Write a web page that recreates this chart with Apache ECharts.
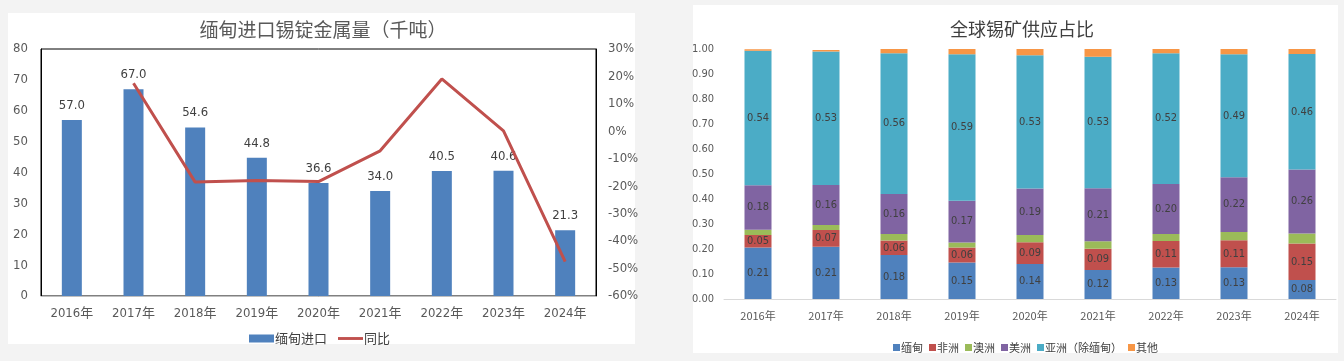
<!DOCTYPE html>
<html>
<head>
<meta charset="utf-8">
<script src="https://cdn.jsdelivr.net/npm/echarts@6/dist/echarts.min.js"></script>
<style>
  html, body { margin: 0; padding: 0; width: 1344px; height: 361px; background: #f3f3f3; overflow: hidden; }
  #p1 { position: absolute; left: 8px; top: 13px; width: 627px; height: 331px; background: #fff; }
  #p2 { position: absolute; left: 693px; top: 5px; width: 645px; height: 348px; background: #fff; }
  #chart { position: absolute; left: 0; top: 0; width: 1344px; height: 361px; }
</style>
</head>
<body>
<div id="p1"></div>
<div id="p2"></div>
<div id="chart"></div>
<script>
// ---- Left chart data ----
const years = ['2016年','2017年','2018年','2019年','2020年','2021年','2022年','2023年','2024年'];
const myanmarImport = [57.0, 67.0, 54.6, 44.8, 36.6, 34.0, 40.5, 40.6, 21.3];
const yoy = [null, 17.5, -18.5, -17.9, -18.3, -7.1, 19.1, 0.2, -47.5];

// ---- Right chart data (share of global tin ore supply) ----
const shareMyanmar = [0.206, 0.209, 0.176, 0.146, 0.140, 0.116, 0.126, 0.127, 0.076];
const shareAfrica  = [0.050, 0.067, 0.058, 0.060, 0.087, 0.085, 0.106, 0.108, 0.146];
const shareOceania = [0.021, 0.020, 0.026, 0.020, 0.029, 0.030, 0.028, 0.033, 0.040];
const shareAmerica = [0.178, 0.160, 0.160, 0.167, 0.186, 0.212, 0.200, 0.219, 0.256];
const shareAsia    = [0.538, 0.534, 0.563, 0.586, 0.533, 0.526, 0.523, 0.492, 0.462];
const shareOther   = [0.006, 0.006, 0.017, 0.021, 0.025, 0.031, 0.017, 0.021, 0.020];

const numFont = '"Liberation Sans Narrow", "DejaVu Sans Condensed", "Noto Sans CJK SC", sans-serif';
const cjkFont = '"Noto Sans CJK SC", sans-serif';

const chart = echarts.init(document.getElementById('chart'), null, { renderer: 'canvas' });

function segLabel(show) {
  return {
    show: show, position: 'inside', color: '#404040', fontSize: 11, fontFamily: numFont,
    formatter: p => (Math.round(p.value * 100) / 100).toFixed(2)
  };
}

const option = {
  backgroundColor: 'transparent',
  animation: false,
  title: [
    { text: '缅甸进口锡锭金属量（千吨）', left: 318, top: 15, textAlign: 'center',
      textStyle: { fontSize: 19, fontWeight: 'normal', color: '#595959', fontFamily: cjkFont } },
    { text: '全球锡矿供应占比', left: 1017, top: 15, textAlign: 'center',
      textStyle: { fontSize: 18, fontWeight: 'normal', color: '#404040', fontFamily: cjkFont } }
  ],
  legend: [
    { data: [{ name: '缅甸进口', icon: 'rect' },
             { name: '同比', icon: 'path://M0,0 L26,0 L26,3 L0,3 Z' }],
      left: 244, top: 327, itemWidth: 25, itemHeight: 8, itemGap: 11, symbolKeepAspect: true,
      textStyle: { fontSize: 13, color: '#404040', fontFamily: cjkFont, padding: [0, 0, 0, -4] } },
    { data: ['缅甸', '非洲', '澳洲', '美洲', '亚洲（除缅甸）', '其他'], left: 888, top: 337,
      itemWidth: 7, itemHeight: 7, itemGap: 6, icon: 'rect',
      textStyle: { fontSize: 11, color: '#404040', fontFamily: cjkFont, padding: [0, 0, 0, -4] } }
  ],
  grid: [
    { left: 41, top: 49, width: 555, height: 247, show: true, borderColor: '#000', borderWidth: 1, backgroundColor: 'transparent' },
    { left: 724, top: 49, width: 612, height: 250 }
  ],
  xAxis: [
    { type: 'category', gridIndex: 0, data: years,
      axisLine: { lineStyle: { color: '#bfbfbf' } }, axisTick: { show: false },
      axisLabel: { color: '#595959', fontSize: 13, margin: 11, fontFamily: numFont } },
    { type: 'category', gridIndex: 1, data: years,
      axisLine: { lineStyle: { color: '#d9d9d9' } }, axisTick: { show: false },
      axisLabel: { color: '#595959', fontSize: 11, margin: 11, fontFamily: cjkFont } }
  ],
  yAxis: [
    { type: 'value', gridIndex: 0, min: 0, max: 80, interval: 10,
      axisLine: { show: true, lineStyle: { color: '#000' } }, axisTick: { show: false }, splitLine: { show: false },
      axisLabel: { color: '#595959', fontSize: 13, margin: 13, fontFamily: numFont } },
    { type: 'value', gridIndex: 0, min: -60, max: 30, interval: 10, position: 'right',
      axisLine: { show: true, lineStyle: { color: '#000' } }, axisTick: { show: false }, splitLine: { show: false },
      axisLabel: { color: '#595959', fontSize: 13, margin: 12, formatter: '{value}%', fontFamily: numFont } },
    { type: 'value', gridIndex: 1, min: 0, max: 1, interval: 0.1,
      axisLine: { show: false }, axisTick: { show: false }, splitLine: { show: false },
      axisLabel: { color: '#595959', fontSize: 11, margin: 10, fontFamily: numFont, formatter: v => v.toFixed(2) } }
  ],
  series: [
    { name: '缅甸进口', type: 'bar', xAxisIndex: 0, yAxisIndex: 0, data: myanmarImport, barWidth: 20,
      itemStyle: { color: '#4f81bd' },
      label: { show: true, position: 'top', distance: 8, color: '#404040', fontSize: 13, fontFamily: numFont,
               formatter: p => p.value.toFixed(1) } },
    { name: '同比', type: 'line', xAxisIndex: 0, yAxisIndex: 1, data: yoy, symbol: 'none',
      lineStyle: { color: '#c0504d', width: 3 }, itemStyle: { color: '#c0504d' } },

    { name: '缅甸', type: 'bar', stack: 's', xAxisIndex: 1, yAxisIndex: 2, data: shareMyanmar, barWidth: 27,
      itemStyle: { color: '#4f81bd' }, label: segLabel(true) },
    { name: '非洲', type: 'bar', stack: 's', xAxisIndex: 1, yAxisIndex: 2, data: shareAfrica, barWidth: 27,
      itemStyle: { color: '#c0504d' }, label: segLabel(true) },
    { name: '澳洲', type: 'bar', stack: 's', xAxisIndex: 1, yAxisIndex: 2, data: shareOceania, barWidth: 27,
      itemStyle: { color: '#9bbb59' }, label: segLabel(false) },
    { name: '美洲', type: 'bar', stack: 's', xAxisIndex: 1, yAxisIndex: 2, data: shareAmerica, barWidth: 27,
      itemStyle: { color: '#8064a2' }, label: segLabel(true) },
    { name: '亚洲（除缅甸）', type: 'bar', stack: 's', xAxisIndex: 1, yAxisIndex: 2, data: shareAsia, barWidth: 27,
      itemStyle: { color: '#4bacc6' }, label: segLabel(true) },
    { name: '其他', type: 'bar', stack: 's', xAxisIndex: 1, yAxisIndex: 2, data: shareOther, barWidth: 27,
      itemStyle: { color: '#f79646' }, label: segLabel(false) }
  ]
};
chart.setOption(option);
</script>
</body>
</html>
